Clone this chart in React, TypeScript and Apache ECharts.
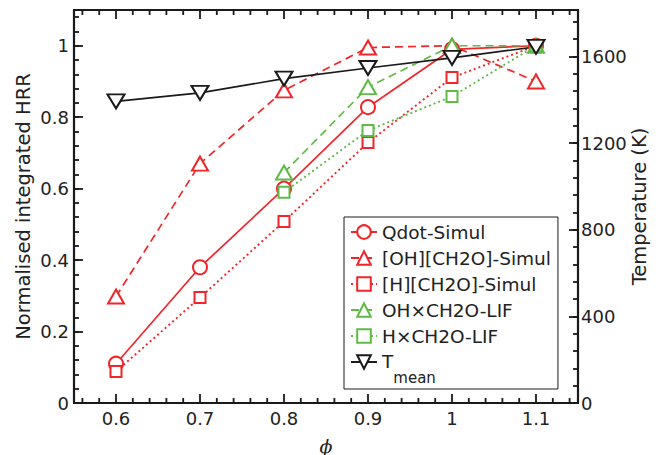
import React, { useEffect, useRef } from 'react';
import * as echarts from 'echarts';

// ---------- data ----------
const phi = [0.6, 0.7, 0.8, 0.9, 1.0, 1.1];
const phiLif = [0.8, 0.9, 1.0, 1.1];
const qdotSimul = [0.11, 0.38, 0.6, 0.828, 0.99, 1.0];
const ohCh2oSimul = [0.298, 0.67, 0.875, 0.995, 1.0, 0.9];
const hCh2oSimul = [0.088, 0.295, 0.508, 0.729, 0.911, 1.0];
const ohCh2oLif = [0.645, 0.884, 1.0, 1.0];
const hCh2oLif = [0.59, 0.763, 0.858, 1.0];
const tMean = [1393, 1432, 1498, 1547, 1594, 1645];

const xMajorTicks = [0.6, 0.7, 0.8, 0.9, 1.0, 1.1];
const xMinorTicks = [
  0.56, 0.58, 0.62, 0.64, 0.66, 0.68, 0.72, 0.74, 0.76, 0.78, 0.82, 0.84, 0.86, 0.88,
  0.92, 0.94, 0.96, 0.98, 1.02, 1.04, 1.06, 1.08, 1.12, 1.14,
];

const RED = '#f0262b';
const GREEN = '#5fba46';
const BLACK = '#1a1a1a';
const FONT = 'DejaVu Sans';

const X_MIN = 0.55, X_MAX = 1.15;
const Y_MIN = 0, Y_MAX = 1.1;
const T_MIN = 0, T_MAX = 1815;

const MAJOR_LEN = 9;
const MINOR_LEN = 5;

const axisLine = { show: true, onZero: false, lineStyle: { color: BLACK, width: 2.2 } };
const tick = (len: number) => ({ show: true, inside: true, length: len, lineStyle: { color: BLACK, width: 1.8 } });
const labelStyle = { fontSize: 18, fontFamily: FONT, color: '#222' };

const pairs = (xs: number[], ys: number[]) => xs.map((x, i) => [x, ys[i]]);

// x-axis ticks (bottom and mirrored on top), placed through the axis scale
const xTickSeries = (vals: number[], len: number) => ({
  type: 'custom',
  xAxisIndex: 0,
  yAxisIndex: 0,
  silent: true,
  clip: false,
  z: 5,
  data: vals.map((v) => [v, Y_MIN]),
  encode: { x: 0, y: 1 },
  renderItem: (_params: any, api: any) => {
    const v = api.value(0);
    const b = api.coord([v, Y_MIN]);
    const t = api.coord([v, Y_MAX]);
    const style = { stroke: BLACK, lineWidth: 1.8 };
    return {
      type: 'group',
      children: [
        { type: 'line', shape: { x1: b[0], y1: b[1], x2: b[0], y2: b[1] - len }, style },
        { type: 'line', shape: { x1: t[0], y1: t[1], x2: t[0], y2: t[1] + len }, style },
      ],
    };
  },
});

const option: any = {
  animation: false,
  backgroundColor: '#fff',
  grid: { left: 74, right: 83, top: 10, bottom: 52, containLabel: false, outerBoundsMode: 'none' },
  legend: {
    orient: 'vertical',
    left: 344,
    top: 217,
    padding: [5, 7, 4, 6],
    borderColor: BLACK,
    borderWidth: 1,
    backgroundColor: '#fff',
    itemWidth: 26,
    itemHeight: 17,
    itemGap: 6,
    textStyle: {
      fontSize: 18.5,
      fontFamily: FONT,
      color: '#222',
      lineHeight: 20,
      rich: {
        t: { fontSize: 18.5, fontFamily: FONT, color: '#222', lineHeight: 20, verticalAlign: 'top' },
        s: { fontSize: 15, fontFamily: FONT, color: '#222', lineHeight: 16, padding: [18, 0, 0, 0], verticalAlign: 'top' },
      },
    },
    formatter: (name: string) => (name === 'T_mean' ? '{t|T}{s|mean}' : name),
    data: ['Qdot-Simul', '[OH][CH2O]-Simul', '[H][CH2O]-Simul', 'OH×CH2O-LIF', 'H×CH2O-LIF', 'T_mean'],
  },
  xAxis: [
    {
      type: 'value', position: 'bottom', min: X_MIN, max: X_MAX,
      axisLine, axisTick: { show: false },
      axisLabel: { show: true, customValues: xMajorTicks, margin: 6, ...labelStyle },
      splitLine: { show: false },
      name: 'ϕ', nameLocation: 'middle', nameGap: 33, nameMoveOverlap: false,
      nameTextStyle: { fontSize: 19, fontFamily: 'DejaVu Serif', fontStyle: 'italic', color: '#222' },
    },
    {
      type: 'value', position: 'top', min: X_MIN, max: X_MAX,
      axisLine, axisTick: { show: false }, axisLabel: { show: false }, splitLine: { show: false },
    },
  ],
  yAxis: [
    {
      type: 'value', position: 'left', min: Y_MIN, max: Y_MAX, interval: 0.2,
      axisLine, axisTick: tick(MAJOR_LEN),
      axisLabel: { show: true, margin: 5, showMaxLabel: false, ...labelStyle },
      splitLine: { show: false },
      name: 'Normalised integrated HRR', nameLocation: 'middle', nameGap: 41, nameMoveOverlap: false,
      nameTextStyle: { fontSize: 19.5, fontFamily: FONT, color: '#222' },
    },
    {
      type: 'value', position: 'left', min: Y_MIN, max: Y_MAX, interval: 0.04,
      axisLine: { show: false }, axisTick: tick(MINOR_LEN), axisLabel: { show: false }, splitLine: { show: false },
    },
    {
      type: 'value', position: 'right', min: T_MIN, max: T_MAX, interval: 400,
      axisLine, axisTick: tick(MAJOR_LEN),
      axisLabel: { show: true, margin: 3, showMaxLabel: false, formatter: (v: number) => String(v), ...labelStyle },
      splitLine: { show: false },
      name: 'Temperature (K)', nameLocation: 'middle', nameGap: 51, nameMoveOverlap: false,
      nameTextStyle: { fontSize: 19.5, fontFamily: FONT, color: '#222' },
    },
    {
      type: 'value', position: 'right', min: T_MIN, max: T_MAX, interval: 80,
      axisLine: { show: false }, axisTick: tick(MINOR_LEN), axisLabel: { show: false }, splitLine: { show: false },
    },
  ],
  series: [
    xTickSeries(xMajorTicks, MAJOR_LEN),
    xTickSeries(xMinorTicks, MINOR_LEN),
    {
      name: 'Qdot-Simul', type: 'line', xAxisIndex: 0, yAxisIndex: 0,
      data: pairs(phi, qdotSimul), symbol: 'emptyCircle', symbolSize: 14,
      lineStyle: { color: RED, width: 1.7, type: 'solid' }, itemStyle: { color: RED, borderWidth: 1.7 },
    },
    {
      name: '[OH][CH2O]-Simul', type: 'line', xAxisIndex: 0, yAxisIndex: 0,
      data: pairs(phi, ohCh2oSimul), symbol: 'emptyTriangle', symbolSize: [16, 14],
      lineStyle: { color: RED, width: 1.7, type: [8, 5] }, itemStyle: { color: RED, borderWidth: 1.7 },
    },
    {
      name: '[H][CH2O]-Simul', type: 'line', xAxisIndex: 0, yAxisIndex: 0,
      data: pairs(phi, hCh2oSimul), symbol: 'emptyRect', symbolSize: 11,
      lineStyle: { color: RED, width: 1.9, type: [2, 3] }, itemStyle: { color: RED, borderWidth: 1.7 },
    },
    {
      name: 'OH×CH2O-LIF', type: 'line', xAxisIndex: 0, yAxisIndex: 0,
      data: pairs(phiLif, ohCh2oLif), symbol: 'emptyTriangle', symbolSize: [16, 14],
      lineStyle: { color: GREEN, width: 1.7, type: [8, 5] }, itemStyle: { color: GREEN, borderWidth: 1.7 },
    },
    {
      name: 'H×CH2O-LIF', type: 'line', xAxisIndex: 0, yAxisIndex: 0,
      data: pairs(phiLif, hCh2oLif), symbol: 'emptyRect', symbolSize: 11,
      lineStyle: { color: GREEN, width: 1.9, type: [2, 3] }, itemStyle: { color: GREEN, borderWidth: 1.7 },
    },
    {
      name: 'T_mean', type: 'line', xAxisIndex: 0, yAxisIndex: 2,
      data: pairs(phi, tMean), symbol: 'emptyTriangle', symbolRotate: 180, symbolSize: [17, 14],
      lineStyle: { color: BLACK, width: 1.7, type: 'solid' }, itemStyle: { color: BLACK, borderWidth: 1.7 },
    },
  ],
};

export default function App() {
  const ref = useRef<HTMLDivElement>(null);
  useEffect(() => {
    const chart = echarts.init(ref.current as HTMLDivElement, null, { renderer: 'svg' });
    chart.setOption(option);
    return () => chart.dispose();
  }, []);
  return (
    <div
      ref={ref}
      style={{ position: 'fixed', left: 0, top: 0, width: 661, height: 455, background: '#fff' }}
    />
  );
}
